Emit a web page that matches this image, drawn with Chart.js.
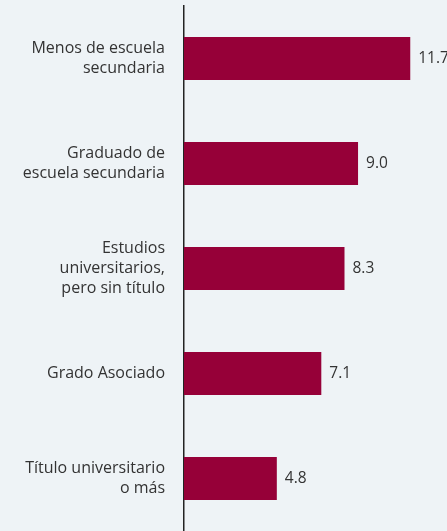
<!DOCTYPE html>
<html><head><meta charset="utf-8">
<script src="https://cdn.jsdelivr.net/npm/chart.js@4/dist/chart.umd.min.js"></script>
<style>
html,body{margin:0;padding:0;background:#eef3f6;}
#wrap{width:447px;height:531px;position:relative;}
</style></head>
<body><div id="wrap"><canvas id="c" width="447" height="531"></canvas></div>
<script>
const categories = [
  ["Menos de escuela", "secundaria"],
  ["Graduado de", "escuela secundaria"],
  ["Estudios", "universitarios,", "pero sin título"],
  ["Grado Asociado"],
  ["Título universitario", "o más"]
];
const values = [11.7, 9.0, 8.3, 7.1, 4.8];
const valueLabels = ["11.7", "9.0", "8.3", "7.1", "4.8"];

const labelPlugin = {
  id: 'valueLabels',
  afterDatasetsDraw(chart) {
    const ctx = chart.ctx;
    const meta = chart.getDatasetMeta(0);
    ctx.save();
    ctx.font = '15.5px "Open Sans", sans-serif';
    ctx.fillStyle = '#333333';
    ctx.textAlign = 'left';
    ctx.textBaseline = 'middle';
    meta.data.forEach((bar, i) => {
      ctx.fillText(valueLabels[i], bar.x + 8, bar.y);
    });
    ctx.restore();
  }
};

new Chart(document.getElementById('c'), {
  type: 'bar',
  data: {
    labels: categories,
    datasets: [{
      data: values,
      backgroundColor: '#960038',
      borderWidth: 0,
      barPercentage: 0.82,
      categoryPercentage: 0.5
    }]
  },
  options: {
    indexAxis: 'y',
    responsive: false,
    animation: false,
    layout: { padding: { top: 6, right: 0, bottom: 0, left: 0 } },
    plugins: { legend: { display: false }, tooltip: { enabled: false } },
    scales: {
      x: { display: false, min: 0, max: 13.6 },
      y: {
        grid: { display: false, drawTicks: false },
        border: { display: true, color: '#222222', width: 1.5 },
        ticks: {
          padding: 19,
          color: '#333333',
          font: { family: '"Open Sans", sans-serif', size: 16, lineHeight: 1.25 }
        },
        afterFit(scale) {
          scale.width = 184;
          scale.paddingTop = 0;
          scale.paddingBottom = 0;
        }
      }
    }
  },
  plugins: [labelPlugin]
});
</script></body></html>
